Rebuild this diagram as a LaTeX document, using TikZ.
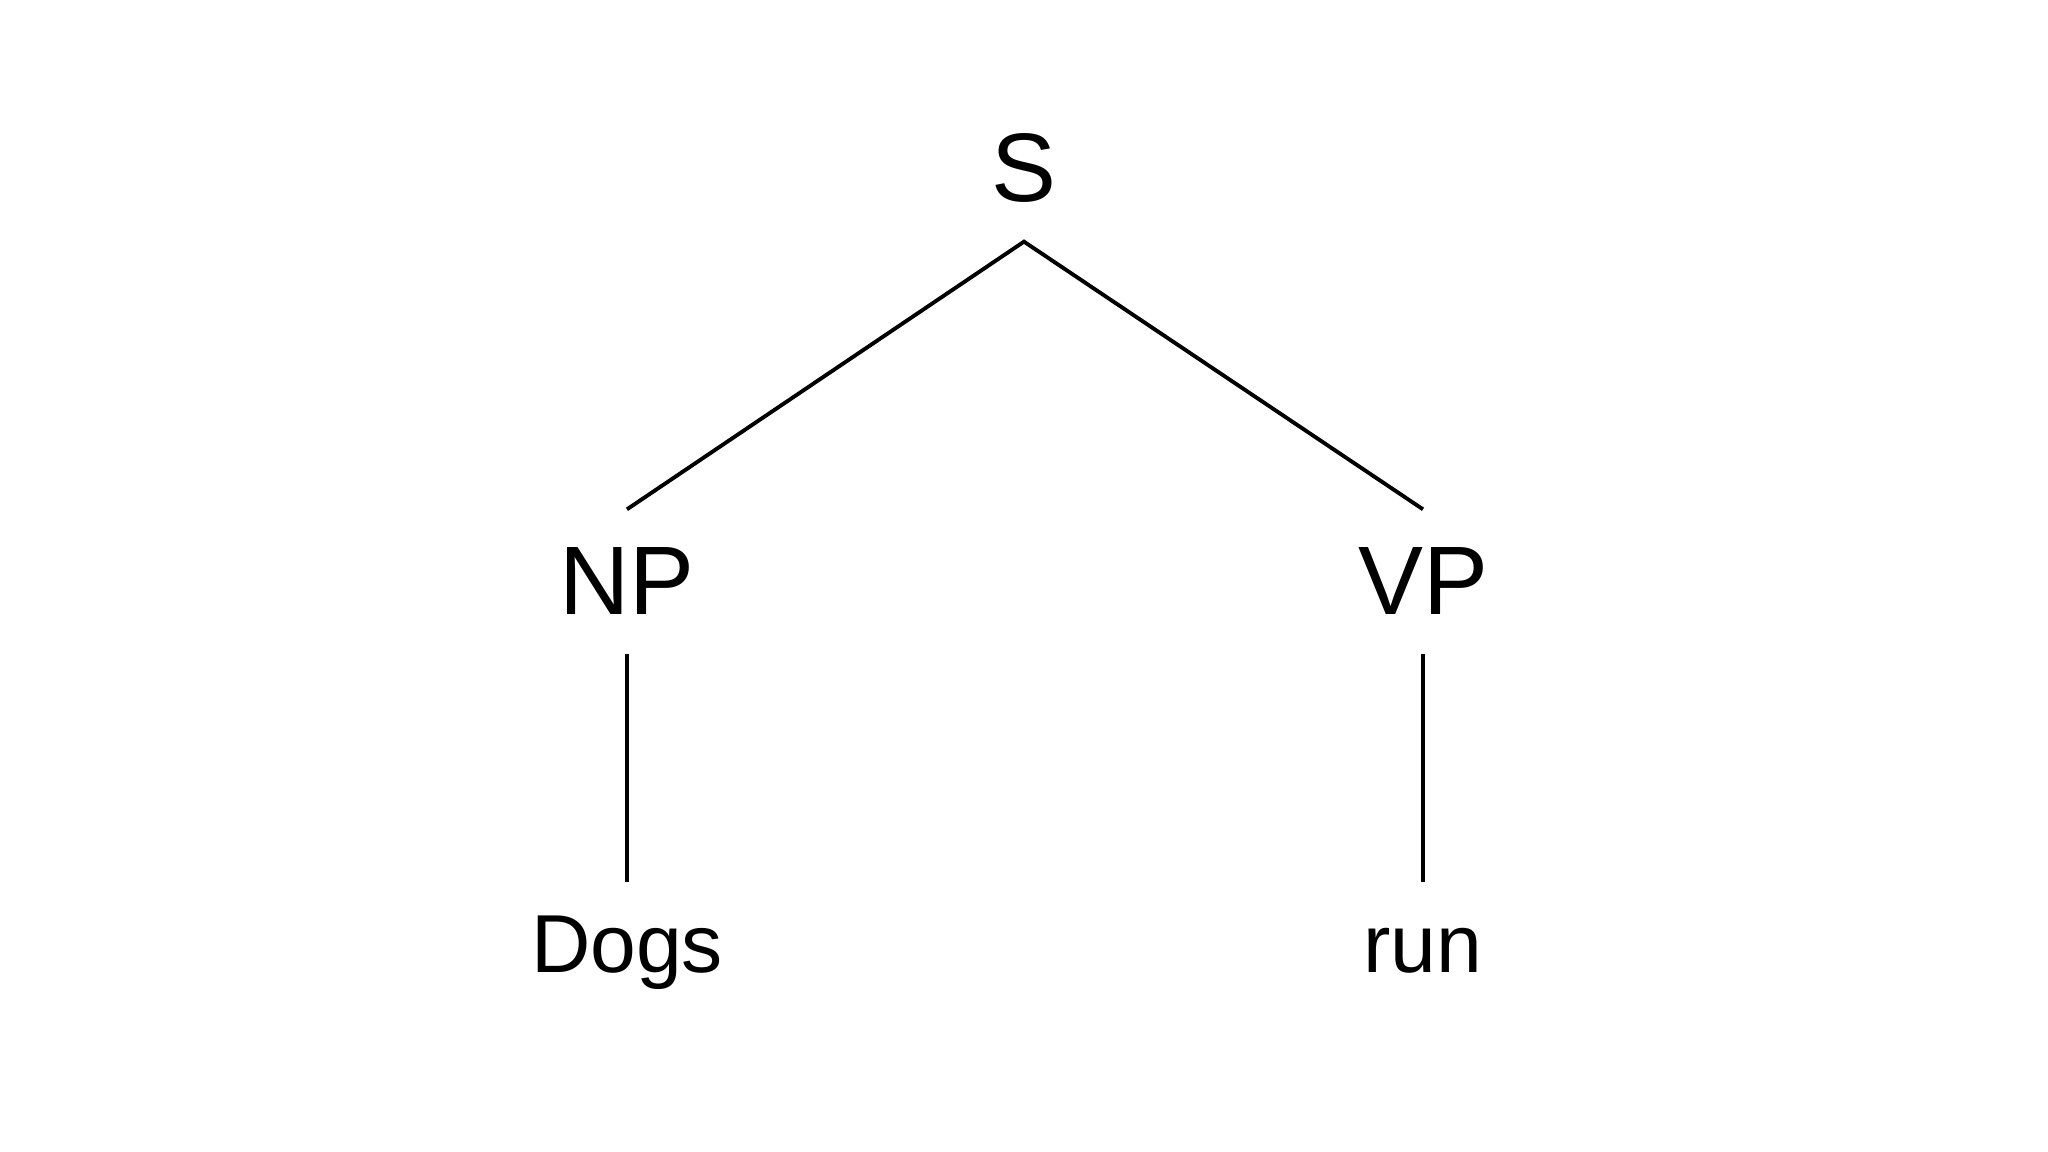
\documentclass[tikz,border=0pt]{standalone}
\usepackage{fontspec}
\setmainfont{Liberation Sans}
\usetikzlibrary{calc}
\tikzset{
    cat/.style={font=\fontsize{27.7}{30}\selectfont, anchor=base, inner xsep=0pt, inner ysep=0.38cm},
    word/.style={font=\fontsize{23.4}{26}\selectfont, anchor=base, inner xsep=0pt, inner ysep=0.30cm, text height=0.59cm},
    branch/.style={line width=1.1pt, line cap=butt},
  }
\begin{document}
\begin{tikzpicture}
				  \useasboundingbox[fill=white] (0,0) rectangle (20.48,-11.52);
				   %RACINE
				  \node[cat] (S) at (10.24,-2.02) {S};
				  %SYNTAGMES
				  \node[cat] (NP) at (6.27,-6.15) {NP};
				  \node[cat] (VP) at (14.23,-6.15) {VP};
				  %MOTS
				  \node[word] (dogs) at (6.27,-9.72) {Dogs};
				  \node[word] (run) at (14.23,-9.72) {run};
				  %BRANCHES
				  \draw[branch] (NP.north) -- (S.south) -- (VP.north);
				  \draw[branch] (NP.south) -- (dogs.north);
				  \draw[branch] (VP.south) -- (run.north);
				  \end{tikzpicture}
\end{document}
